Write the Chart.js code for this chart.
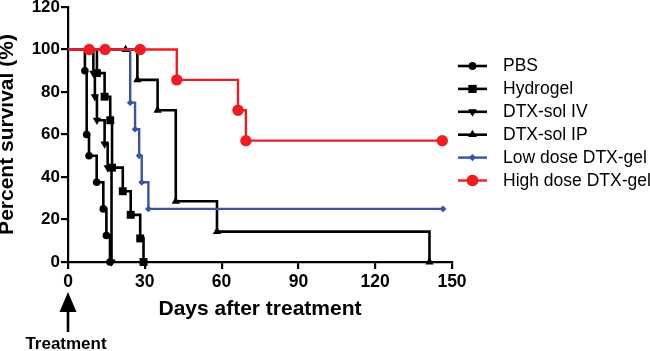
<!DOCTYPE html>
<html><head><meta charset="utf-8">
<script src="https://cdn.jsdelivr.net/npm/chart.js@4"></script>
<style>html,body{margin:0;padding:0;background:#fff}#wrap{width:650px;height:351px}</style>
</head><body><div id="wrap"><canvas id="c" width="650" height="351"></canvas></div>
<script>
// ---- data ----
const seriesNames = ['PBS', 'Hydrogel', 'DTX-sol IV', 'DTX-sol IP', 'Low dose DTX-gel', 'High dose DTX-gel'];
const pbsDays = [0, 6.6, 7.3, 8.2, 11.2, 13.8, 15.0, 16.4];
const pbsSurvival = [100, 90, 60, 50, 37.5, 25, 12.5, 0];
const hydrogelDays = [0, 11.3, 14.3, 16.5, 17.2, 21.4, 24.5, 28.2, 29.5];
const hydrogelSurvival = [100, 88.9, 77.8, 66.7, 44.4, 33.3, 22.2, 11.1, 0];
const ivDays = [0, 9.9, 10.5, 11.3, 14.3, 15.5, 17.0];
const ivSurvival = [100, 88.9, 77.8, 66.7, 55.6, 44.4, 0];
const ipDays = [0, 22.5, 27.1, 35.0, 42.1, 58.2, 141.2];
const ipSurvival = [100, 100, 85.7, 71.4, 28.6, 14.3, 0];
const lowDays = [0, 24.3, 26.2, 27.8, 28.8, 31.4, 146.5];
const lowSurvival = [100, 75, 62.5, 50, 37.5, 25, 25];
const highDays = [0, 8.3, 14.5, 28.2, 42.5, 66.4, 69.5, 146.2];
const highSurvival = [100, 100, 100, 100, 85.7, 71.4, 57.1, 57.1];
const xTicks = [0, 30, 60, 90, 120, 150];
const yTicks = [0, 20, 40, 60, 80, 100, 120];
const xTitle = 'Days after treatment';
const yTitle = 'Percent survival (%)';
const annotationText = 'Treatment';

// ---- styles ----
const FONT = "'Liberation Sans', Arial, Helvetica, sans-serif";
const BLACK = '#000000', BLUE = '#3A53A4', RED = '#EE1D23';
const seriesData = [
  [pbsDays, pbsSurvival], [hydrogelDays, hydrogelSurvival], [ivDays, ivSurvival],
  [ipDays, ipSurvival], [lowDays, lowSurvival], [highDays, highSurvival]
];
const styles = [
  {color: BLACK, point: 'circle', r: 3.8, rot: 0, lw: 2.6, order: 6},
  {color: BLACK, point: 'rect', r: 5.6, rot: 0, lw: 2.6, order: 5},
  {color: BLACK, point: 'triangle', r: 4.8, rot: 180, lw: 2.6, order: 4},
  {color: BLACK, point: 'triangle', r: 4.8, rot: 0, lw: 2.6, order: 3},
  {color: BLUE, point: 'rectRot', r: 3.4, rot: 0, lw: 2.4, order: 1},
  {color: RED, point: 'circle', r: 5.7, rot: 0, lw: 2.4, order: 0}
];

const datasets = seriesNames.map((name, i) => {
  const [xs, ys] = seriesData[i];
  const s = styles[i];
  return {
    label: name,
    data: xs.map((x, k) => ({x: x, y: ys[k]})),
    stepped: 'before',
    borderColor: s.color,
    backgroundColor: s.color,
    borderWidth: s.lw,
    pointStyle: s.point,
    pointRotation: s.rot,
    pointRadius: xs.map((x, k) => k === 0 ? 0 : s.r),
    pointHoverRadius: xs.map((x, k) => k === 0 ? 0 : s.r),
    pointBorderWidth: 0,
    pointBackgroundColor: s.color,
    fill: false,
    clip: false,
    order: s.order
  };
});

function drawMarker(ctx, s, x, y) {
  ctx.save();
  ctx.fillStyle = s.color;
  ctx.strokeStyle = s.color;
  if (Chart.helpers && Chart.helpers.drawPoint) {
    Chart.helpers.drawPoint(ctx, {pointStyle: s.point, rotation: s.rot, radius: s.r, borderWidth: 0}, x, y);
    ctx.fill();
  } else {
    ctx.beginPath(); ctx.arc(x, y, s.r, 0, Math.PI * 2); ctx.fill();
  }
  ctx.restore();
}

const legendPlugin = {
  id: 'customLegend',
  afterDraw(chart) {
    const ctx = chart.ctx;
    ctx.save();
    ctx.font = '17.5px ' + FONT;
    ctx.textBaseline = 'middle';
    seriesNames.forEach((name, i) => {
      const s = styles[i];
      const y = 66 + i * 22.9;
      ctx.strokeStyle = s.color;
      ctx.lineWidth = s.lw;
      ctx.beginPath(); ctx.moveTo(458, y); ctx.lineTo(487, y); ctx.stroke();
      drawMarker(ctx, s, 472.5, y);
      ctx.fillStyle = '#000';
      ctx.fillText(name, 503, y + 0.5);
    });
    ctx.restore();
  }
};

const treatmentPlugin = {
  id: 'treatment',
  afterDraw(chart) {
    const ctx = chart.ctx;
    const x = chart.scales.x.getPixelForValue(0);
    ctx.save();
    ctx.fillStyle = '#000';
    ctx.beginPath();
    ctx.moveTo(x, 292); ctx.lineTo(x + 8.5, 312); ctx.lineTo(x - 8.5, 312); ctx.closePath();
    ctx.fill();
    ctx.fillRect(x - 1.3, 311, 2.6, 21);
    ctx.font = 'bold 17px ' + FONT;
    ctx.textAlign = 'center';
    ctx.textBaseline = 'alphabetic';
    ctx.fillText(annotationText, x - 2, 349);
    ctx.restore();
  }
};

new Chart(document.getElementById('c'), {
  type: 'line',
  data: {datasets: datasets},
  options: {
    responsive: false,
    animation: false,
    events: [],
    layout: {padding: {left: 0, right: 198, top: 7, bottom: 0}},
    plugins: {legend: {display: false}, tooltip: {enabled: false}},
    scales: {
      x: {
        type: 'linear', min: 0, max: 150,
        afterBuildTicks: (sc) => { sc.ticks = xTicks.map(v => ({value: v})); },
        afterFit: (sc) => { sc.height = 89; sc.paddingLeft = 0; sc.paddingRight = 0; },
        grid: {drawOnChartArea: false, drawTicks: true, tickLength: 7, color: '#000', lineWidth: 2.2},
        border: {display: true, color: '#000', width: 2.2},
        ticks: {color: '#000', padding: 3, maxRotation: 0, autoSkip: false,
                font: {family: FONT, size: 17.5, weight: 'bold'}},
        title: {display: true, text: xTitle, color: '#000',
                font: {family: FONT, size: 21, weight: 'bold', lineHeight: 1},
                padding: {top: 0, bottom: 31.5}}
      },
      y: {
        type: 'linear', min: 0, max: 120,
        afterBuildTicks: (sc) => { sc.ticks = yTicks.map(v => ({value: v})); },
        afterFit: (sc) => { sc.width = 68; sc.paddingTop = 0; sc.paddingBottom = 0; },
        grid: {drawOnChartArea: false, drawTicks: true, tickLength: 7, color: '#000', lineWidth: 2.2},
        border: {display: true, color: '#000', width: 2.2},
        ticks: {color: '#000', padding: 1, autoSkip: false,
                font: {family: FONT, size: 17, weight: 'bold'}},
        title: {display: true, text: yTitle, color: '#000',
                font: {family: FONT, size: 21, weight: 'bold', lineHeight: 1},
                padding: {top: -3, bottom: 0}}
      }
    }
  },
  plugins: [legendPlugin, treatmentPlugin]
});
</script>
</body></html>
